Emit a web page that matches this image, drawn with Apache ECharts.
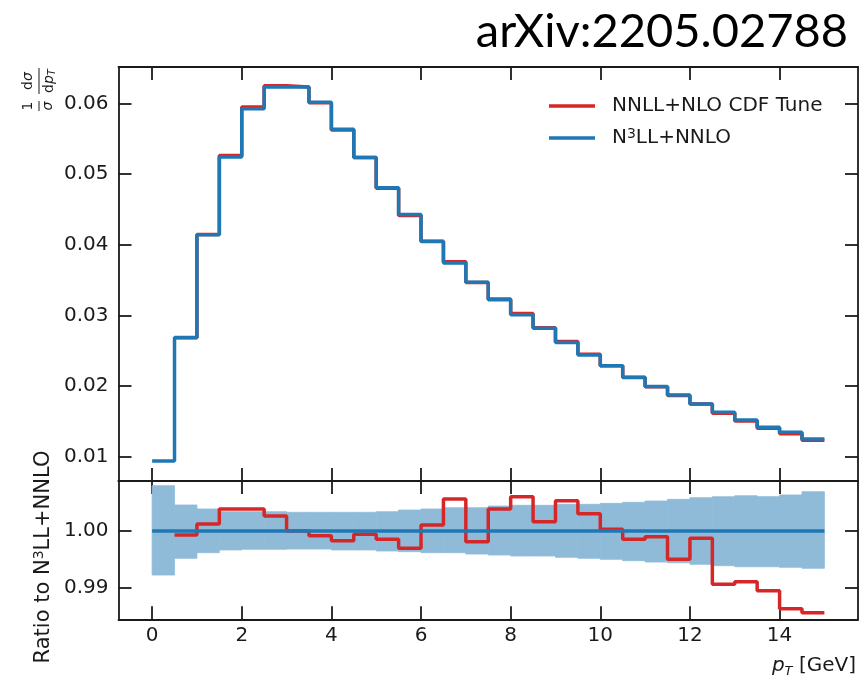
<!DOCTYPE html>
<html>
<head>
<meta charset="utf-8">
<script src="https://cdn.jsdelivr.net/npm/echarts@6/dist/echarts.min.js"></script>
<style>
  html, body { margin: 0; padding: 0; background: #fff; }
  #main { width: 866px; height: 675px; }
</style>
</head>
<body>
<div id="main"></div>
<script>
// bin edges in pT [GeV]
var edges = [0, 0.5, 1, 1.5, 2, 2.5, 3, 3.5, 4, 4.5, 5, 5.5, 6, 6.5, 7, 7.5, 8, 8.5, 9, 9.5,
             10, 10.5, 11, 11.5, 12, 12.5, 13, 13.5, 14, 14.5, 15];
// 1/sigma dsigma/dpT
var n3llNnlo = [0.0094, 0.02686, 0.0414, 0.0524, 0.05925, 0.0623, 0.0623, 0.06014, 0.05632, 0.05235,
                0.04806, 0.04428, 0.04045, 0.03739, 0.0347, 0.0322, 0.03007, 0.02819, 0.02615, 0.0244,
                0.02285, 0.02125, 0.01992, 0.01874, 0.01746, 0.01629, 0.0152, 0.01416, 0.01345, 0.01251];
var nnllCdf = [null, 0.02684, 0.04145, 0.0526, 0.05948, 0.0625, 0.0623, 0.06009, 0.05622, 0.05232,
               0.04799, 0.04414, 0.04049, 0.0376, 0.03463, 0.03233, 0.03025, 0.02824, 0.02629, 0.02448,
               0.02286, 0.02122, 0.0199, 0.01865, 0.01744, 0.01614, 0.01506, 0.01401, 0.01326, 0.01233];
// ratio panel
var ratioCdf = [null, 0.99929, 1.00124, 1.00391, 1.00391, 1.00266, 1.0, 0.99917, 0.99828, 0.99941,
                0.99852, 0.99692, 1.00107, 1.00568, 0.9981, 1.00391, 1.00609, 1.00166, 1.00538, 1.00308,
                1.0003, 0.99852, 0.99899, 0.99497, 0.9987, 0.99053, 0.991, 0.9894, 0.9862, 0.98549];
var ratioRef = [1.0, 1.0];
var bandUp = [1.00805, 1.00462, 1.00391, 1.00343, 1.00343, 1.00343, 1.00332, 1.00332, 1.00332, 1.00332,
              1.00343, 1.00373, 1.00391, 1.00414, 1.00414, 1.00444, 1.00456, 1.00456, 1.00474, 1.00474,
              1.00491, 1.00509, 1.00533, 1.00562, 1.00592, 1.00609, 1.00627, 1.0061, 1.0064, 1.00698];
var bandDown = [0.99218, 0.99515, 0.99615, 0.99663, 0.99675, 0.99675, 0.9968, 0.9968, 0.99663, 0.99663,
                0.99645, 0.99633, 0.99615, 0.99615, 0.99591, 0.99574, 0.99556, 0.99556, 0.99532, 0.99515,
                0.99497, 0.99473, 0.99449, 0.99437, 0.99408, 0.99384, 0.99366, 0.99365, 0.99355, 0.99337];
var xTicks = [0, 2, 4, 6, 8, 10, 12, 14];
var yTicksTop = [0.01, 0.02, 0.03, 0.04, 0.05, 0.06];
var yTicksRatio = [0.99, 1.00];

var RED = '#d62728';
var BLUE = '#1f77b4';
var BAND = '#8fbbd9';
var INK = '#1a1a1a';
var FONT = 'DejaVu Sans';

// histogram values -> step points (last edge repeats last value)
function stepData(vals) {
  var out = [];
  for (var i = 0; i < vals.length; i++) out.push([edges[i], vals[i]]);
  out.push([edges[edges.length - 1], vals[vals.length - 1]]);
  return out;
}
function bandData() {
  var out = [];
  for (var i = 0; i < bandUp.length; i++) out.push([edges[i], edges[i + 1], bandDown[i], bandUp[i]]);
  return out;
}

function xAxisDef(grid, pos, labels) {
  return {
    type: 'value', gridIndex: grid, position: pos, min: -0.75, max: 15.75,
    axisLine: { show: true, onZero: false, lineStyle: { color: INK, width: 1.8 } },
    axisTick: { show: true, inside: true, length: 13, customValues: xTicks, lineStyle: { color: INK, width: 1.8 } },
    axisLabel: { show: labels, customValues: xTicks, margin: 6, color: INK, fontFamily: FONT, fontSize: 20 },
    splitLine: { show: false }
  };
}
function yAxisDef(grid, pos, min, max, ticks, labels) {
  return {
    type: 'value', gridIndex: grid, position: pos, min: min, max: max,
    axisLine: { show: true, onZero: false, lineStyle: { color: INK, width: 1.8 } },
    axisTick: { show: true, inside: true, length: 13, customValues: ticks, lineStyle: { color: INK, width: 1.8 } },
    axisLabel: { show: labels, customValues: ticks, margin: 10, color: INK, fontFamily: FONT, fontSize: 20,
                 formatter: function (v) { return v.toFixed(2); } },
    splitLine: { show: false }
  };
}

var chart = echarts.init(document.getElementById('main'), null, { renderer: 'canvas' });

var option = {
  animation: false,
  backgroundColor: '#fff',
  grid: [
    { left: 118.5, right: 8, top: 67, height: 414 },
    { left: 118.5, right: 8, top: 481, height: 138.3 }
  ],
  xAxis: [
    xAxisDef(0, 'bottom', false),
    xAxisDef(0, 'top', false),
    xAxisDef(1, 'bottom', true),
    xAxisDef(1, 'top', false)
  ],
  yAxis: [
    yAxisDef(0, 'left', 0.00656, 0.06514, yTicksTop, true),
    yAxisDef(0, 'right', 0.00656, 0.06514, yTicksTop, false),
    yAxisDef(1, 'left', 0.98432, 1.00888, yTicksRatio, true),
    yAxisDef(1, 'right', 0.98432, 1.00888, yTicksRatio, false)
  ],
  legend: {
    data: ['NNLL+NLO CDF Tune', 'N3LL+NNLO'],
    orient: 'vertical',
    left: 544, top: 91,
    itemWidth: 46, itemHeight: 3.5, itemGap: 11,
    icon: 'rect',
    formatter: function (name) {
      if (name === 'N3LL+NNLO') return '{t|N}{s|3}{t|LL+NNLO}';
      return '{t|' + name + '}';
    },
    textStyle: {
      padding: [0, 0, 0, 12],
      rich: {
        t: { fontFamily: FONT, fontSize: 20, color: INK, lineHeight: 22 },
        s: { fontFamily: FONT, fontSize: 14, color: INK, lineHeight: 14, verticalAlign: 'top' }
      }
    }
  },
  series: [
    {
      name: 'NNLL+NLO CDF Tune', type: 'line', xAxisIndex: 0, yAxisIndex: 0,
      step: 'end', showSymbol: false, color: RED,
      lineStyle: { color: RED, width: 3.5 },
      data: stepData(nnllCdf)
    },
    {
      name: 'N3LL+NNLO', type: 'line', xAxisIndex: 0, yAxisIndex: 0,
      step: 'end', showSymbol: false, color: BLUE,
      lineStyle: { color: BLUE, width: 3.5 },
      data: stepData(n3llNnlo)
    },
    {
      name: 'band', type: 'custom', xAxisIndex: 2, yAxisIndex: 2,
      encode: { x: [0, 1], y: [2, 3] },
      renderItem: function (params, api) {
        var p0 = api.coord([api.value(0), api.value(3)]);
        var p1 = api.coord([api.value(1), api.value(2)]);
        return {
          type: 'rect',
          shape: { x: p0[0], y: p0[1], width: p1[0] - p0[0], height: p1[1] - p0[1] },
          style: { fill: BAND, stroke: BAND, lineWidth: 0.8 }
        };
      },
      data: bandData()
    },
    {
      name: 'ratio cdf', type: 'line', xAxisIndex: 2, yAxisIndex: 2,
      step: 'end', showSymbol: false,
      lineStyle: { color: RED, width: 3.5 },
      data: stepData(ratioCdf)
    },
    {
      name: 'ratio ref', type: 'line', xAxisIndex: 2, yAxisIndex: 2,
      showSymbol: false,
      lineStyle: { color: BLUE, width: 3.5 },
      data: [[edges[0], ratioRef[0]], [edges[edges.length - 1], ratioRef[1]]]
    }
  ],
  graphic: [
    {
      type: 'text', right: 18, top: 8,
      style: { text: 'arXiv:2205.02788', fontFamily: 'Lato', fontSize: 47, fill: '#000' }
    },
    // 1/sigma dsigma/dpT, rotated
    {
      type: 'group', x: 39, y: 90, rotation: Math.PI / 2,
      children: [
        { type: 'text', x: -16, y: -4, style: { text: '1', fontFamily: FONT, fontSize: 14, fill: INK, align: 'center', verticalAlign: 'bottom' } },
        { type: 'line', shape: { x1: -21, y1: 0, x2: -11, y2: 0 }, style: { stroke: INK, lineWidth: 1 } },
        { type: 'text', x: -16, y: 2, style: { text: 'σ', fontFamily: FONT, fontSize: 14, fontStyle: 'italic', fill: INK, align: 'center', verticalAlign: 'top' } },
        { type: 'text', x: 9, y: -4, style: {
            text: '{a|d}{b|σ}', align: 'center', verticalAlign: 'bottom',
            rich: {
              a: { fontFamily: FONT, fontSize: 14, fill: INK },
              b: { fontFamily: FONT, fontSize: 14, fontStyle: 'italic', fill: INK }
            } } },
        { type: 'line', shape: { x1: -4, y1: 0, x2: 22, y2: 0 }, style: { stroke: INK, lineWidth: 1 } },
        { type: 'text', x: 9, y: 2, style: {
            text: '{a|d}{c|p}{b|T}', align: 'center', verticalAlign: 'top',
            rich: {
              a: { fontFamily: FONT, fontSize: 14, fill: INK, lineHeight: 16 },
              c: { fontFamily: FONT, fontSize: 14, fontStyle: 'italic', fill: INK, lineHeight: 16 },
              b: { fontFamily: FONT, fontSize: 10, fontStyle: 'italic', fill: INK, lineHeight: 10, verticalAlign: 'bottom' }
            } } }
      ]
    },
    {
      type: 'text', x: 44, y: 557, rotation: Math.PI / 2,
      style: {
        text: '{t|Ratio to N}{s|3}{t|LL+NNLO}', align: 'center', verticalAlign: 'middle',
        rich: {
          t: { fontFamily: FONT, fontSize: 21, fill: INK, lineHeight: 24 },
          s: { fontFamily: FONT, fontSize: 14, fill: INK, lineHeight: 14, verticalAlign: 'top' }
        }
      }
    },
    {
      type: 'text', x: 856, y: 666,
      style: {
        text: '{p|p}{s|T}{t| [GeV]}', align: 'right', verticalAlign: 'middle',
        rich: {
          p: { fontFamily: FONT, fontSize: 20, fontStyle: 'italic', fill: INK, lineHeight: 24 },
          s: { fontFamily: FONT, fontSize: 13, fontStyle: 'italic', fill: INK, lineHeight: 13, verticalAlign: 'bottom' },
          t: { fontFamily: FONT, fontSize: 20, fill: INK, lineHeight: 24 }
        }
      }
    }
  ]
};

chart.setOption(option);
</script>
</body>
</html>
